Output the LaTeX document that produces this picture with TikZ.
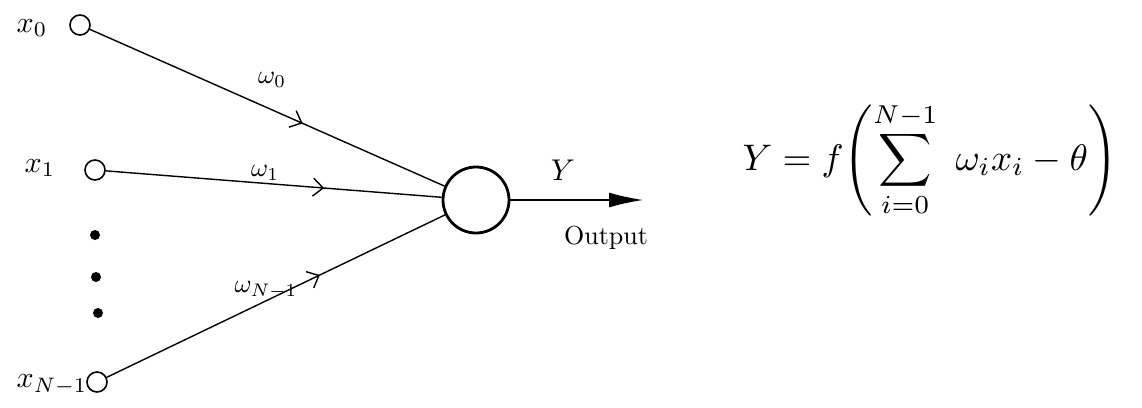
\documentclass[tikz,border=0pt]{standalone}
\usepackage{graphicx}
\usepackage{amsmath}
\usetikzlibrary{arrows.meta,decorations.markings}
\newcommand{\bigtxt}[2]{\scalebox{#1}{#2}}
\begin{document}
\begin{tikzpicture}[x=1pt,y=-1pt,
  inp/.style={circle,draw,line width=1.6pt,minimum size=20pt,inner sep=0pt},
  neuron/.style={circle,draw,line width=2.8pt,minimum size=66pt,inner sep=0pt},
  wire/.style={line width=1.4pt},
  dotnode/.style={circle,fill,minimum size=10pt,inner sep=0pt},
  midarrow/.style={postaction={decorate},decoration={markings,
     mark=at position #1 with {\arrow{Straight Barb[length=10pt,width=18pt,line width=1.4pt]}}}},
  lbl/.style={inner sep=0pt}]
\useasboundingbox (0,0) rectangle (1142,407);
% inputs
\node[inp] (x0) at (80,25) {};
\node[inp] (x1) at (95,170) {};
\node[inp] (xn) at (97,382) {};
\node[lbl] (lx0) at (32,28) {\bigtxt{3}{$x_0$}};
\node[lbl] (lx1) at (40,168) {\bigtxt{3}{$x_1$}};
\node[lbl] (lxn) at (52,385) {\bigtxt{3}{$x_{N-1}$}};
% dots
\node[dotnode] (d1) at (95,235) {};
\node[dotnode] (d2) at (96,277) {};
\node[dotnode] (d3) at (98,313) {};
% neuron
\node[neuron] (n) at (476,200) {};
\coordinate (out) at (643,200);
% connectors
\draw[wire,midarrow=0.6] (x0) -- (n);
\draw[wire,midarrow=0.65] (x1) -- (n);
\draw[wire,midarrow=0.63] (xn) -- (n);
\draw[wire,-{Latex[length=34pt,width=15pt]}] (n) -- (out);
% weight labels
\node[lbl] (w0) at (272,80) {\bigtxt{2.6}{$\omega_0$}};
\node[lbl] (w1) at (265,173) {\bigtxt{2.6}{$\omega_1$}};
\node[lbl] (wn) at (266,290) {\bigtxt{2.6}{$\omega_{N-1}$}};
% output labels
\node[lbl] (ly) at (563,170) {\bigtxt{3}{$Y$}};
\node[lbl] (lo) at (606,238) {\bigtxt{2.6}{Output}};
% formula
\node[lbl] (eq) at (930,160) {\bigtxt{3.7}{$\displaystyle Y = f\!\left(\sum_{i=0}^{N-1}\ \omega_i x_i - \theta\right)$}};
\end{tikzpicture}
\end{document}
